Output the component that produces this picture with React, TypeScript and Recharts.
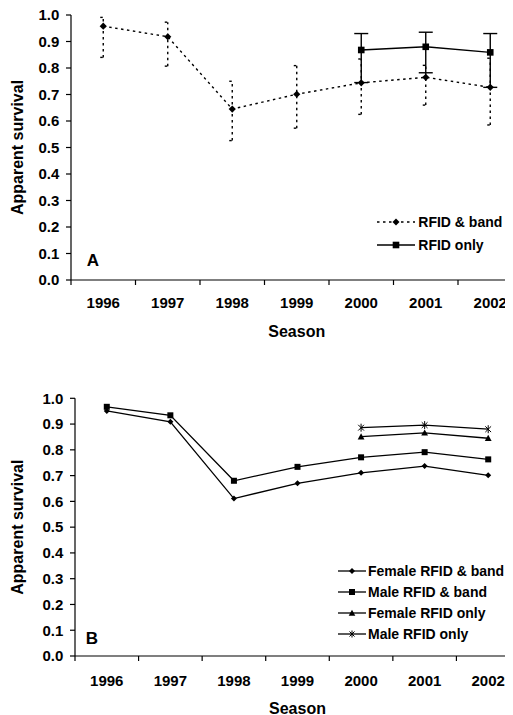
import React from 'react';
import { ComposedChart, Line, XAxis, YAxis, ErrorBar, Legend } from 'recharts';

const FONT = '"Liberation Sans", Arial, Helvetica, sans-serif';
const INK = '#000';

// shared axes
const seasons = ['1996', '1997', '1998', '1999', '2000', '2001', '2002'];
const yTicks = [0, 0.1, 0.2, 0.3, 0.4, 0.5, 0.6, 0.7, 0.8, 0.9, 1.0];
const boundaryTicks = [0, 1, 2, 3, 4, 5, 6, 7];
const centerTicks = [0.5, 1.5, 2.5, 3.5, 4.5, 5.5, 6.5];

// panel A (estimates with confidence limits)
const bandSurvival = [0.958, 0.918, 0.645, 0.701, 0.744, 0.765, 0.727];
const bandUpper = [0.991, 0.973, 0.75, 0.809, 0.834, 0.81, 0.837];
const bandLower = [0.84, 0.807, 0.526, 0.573, 0.625, 0.66, 0.585];
const rfidSurvival = [null, null, null, null, 0.868, 0.88, 0.859];
const rfidUpper = [null, null, null, null, 0.93, 0.935, 0.93];
const rfidLower = [null, null, null, null, 0.745, 0.782, 0.727];

// panel B (by sex)
const femaleBand = [0.951, 0.909, 0.611, 0.67, 0.711, 0.737, 0.701];
const maleBand = [0.967, 0.934, 0.68, 0.734, 0.771, 0.791, 0.763];
const femaleRfid = [null, null, null, null, 0.851, 0.866, 0.845];
const maleRfid = [null, null, null, null, 0.886, 0.896, 0.88];

const dataA = seasons.map((season, i) => ({
  x: i + 0.5,
  season,
  band: bandSurvival[i],
  bandErr: [bandSurvival[i] - bandLower[i], bandUpper[i] - bandSurvival[i]],
  rfid: rfidSurvival[i],
  rfidErr:
    rfidSurvival[i] == null
      ? undefined
      : [rfidSurvival[i]! - rfidLower[i]!, rfidUpper[i]! - rfidSurvival[i]!],
}));

const dataB = seasons.map((season, i) => ({
  x: i + 0.5,
  season,
  femaleBand: femaleBand[i],
  maleBand: maleBand[i],
  femaleRfid: femaleRfid[i],
  maleRfid: maleRfid[i],
}));

type MarkerKind = 'diamond' | 'square' | 'triangle' | 'star';

const Marker = ({ kind, cx, cy, size }: { kind: MarkerKind; cx?: number; cy?: number; size: number }) => {
  if (cx == null || cy == null || Number.isNaN(cx) || Number.isNaN(cy)) return null;
  const s = size;
  if (kind === 'diamond')
    return <path d={`M${cx},${cy - s}L${cx + s},${cy}L${cx},${cy + s}L${cx - s},${cy}Z`} fill={INK} />;
  if (kind === 'square') return <rect x={cx - s} y={cy - s} width={2 * s} height={2 * s} fill={INK} />;
  if (kind === 'triangle')
    return <path d={`M${cx},${cy - s}L${cx + s},${cy + s * 0.8}L${cx - s},${cy + s * 0.8}Z`} fill={INK} />;
  const d = s * 0.72;
  return (
    <g stroke={INK} strokeWidth={1}>
      <line x1={cx} y1={cy - s} x2={cx} y2={cy + s} />
      <line x1={cx - d} y1={cy - d} x2={cx + d} y2={cy + d} />
      <line x1={cx - d} y1={cy + d} x2={cx + d} y2={cy - d} />
    </g>
  );
};

const dotOf = (kind: MarkerKind, size: number) => (p: any) =>
  <Marker key={`${kind}-${p.index}`} kind={kind} cx={p.cx} cy={p.cy} size={size} />;

const tickStyle = { fill: INK, fontSize: 15, fontWeight: 700, fontFamily: FONT };
const titleStyle = { fill: INK, fontSize: 16, fontWeight: 700, fontFamily: FONT };

const legendA = [
  { name: 'RFID & band', kind: 'diamond' as MarkerKind, size: 3.5, dash: '2.5 3.5' },
  { name: 'RFID only', kind: 'square' as MarkerKind, size: 3.3, dash: undefined },
];
const legendB = [
  { name: 'Female RFID & band', kind: 'diamond' as MarkerKind, size: 3, dash: undefined },
  { name: 'Male RFID & band', kind: 'square' as MarkerKind, size: 3, dash: undefined },
  { name: 'Female RFID only', kind: 'triangle' as MarkerKind, size: 3.3, dash: undefined },
  { name: 'Male RFID only', kind: 'star' as MarkerKind, size: 3.5, dash: undefined },
];

const LegendRows = ({ items, lineW, rowH, gap }: { items: typeof legendA; lineW: number; rowH: number; gap: number }) => (
  <div style={{ fontFamily: FONT, fontSize: 14, fontWeight: 700, color: INK }}>
    {items.map((it) => (
      <div key={it.name} style={{ display: 'flex', alignItems: 'center', height: rowH, whiteSpace: 'nowrap' }}>
        <svg width={lineW} height={12} style={{ display: 'block' }}>
          <line x1={0} y1={6} x2={lineW} y2={6} stroke={INK} strokeWidth={1.3} strokeDasharray={it.dash} />
          <Marker kind={it.kind} cx={lineW / 2} cy={6} size={it.size} />
        </svg>
        <span style={{ marginLeft: gap }}>{it.name}</span>
      </div>
    ))}
  </div>
);

const PanelLetter = ({ text, x, y }: { text: string; x: number; y: number }) => (
  <div
    style={{
      position: 'absolute', left: x, top: y, transform: 'translate(-50%, -50%)',
      fontFamily: FONT, fontSize: 17, fontWeight: 700, lineHeight: 1, color: INK,
    }}
  >
    {text}
  </div>
);

const axesFor = (yWidth: number, yrGap: number, axisH: number, seasonOffset: number) => [
  <XAxis key="xt" xAxisId="tick" type="number" dataKey="x" domain={[0, 7]} ticks={boundaryTicks}
    interval={0} tickSize={5} height={5} tickFormatter={() => ''} stroke={INK} strokeWidth={1.2} />,
  <XAxis key="xy" xAxisId="yr" type="number" dataKey="x" domain={[0, 7]} ticks={centerTicks}
    interval={0} axisLine={false} tickLine={false} tickSize={6} tickMargin={yrGap} height={axisH}
    tickFormatter={(v: number) => seasons[Math.floor(v)]} tick={tickStyle}
    label={{ value: 'Season', position: 'insideBottom', offset: seasonOffset, style: titleStyle }} />,
  <YAxis key="y" type="number" domain={[0, 1]} ticks={yTicks} interval={0} width={yWidth}
    tickSize={5} tickMargin={6.7} stroke={INK} strokeWidth={1.2} tick={tickStyle}
    tickFormatter={(v: number) => v.toFixed(1)}
    label={{ value: 'Apparent survival', angle: -90, position: 'insideLeft', offset: 9.5,
      style: { ...titleStyle, textAnchor: 'middle' } }} />,
];

export default function App() {
  return (
    <div style={{ width: 505, overflow: 'hidden', marginTop: -6 }}>
      <div style={{ position: 'relative', width: 520, height: 351 }}>
        <ComposedChart width={520} height={351} data={dataA} margin={{ top: 13, right: 5.5, bottom: 0, left: 0 }}>
          {axesFor(63, 6.6, 68, 16)}
          <Line xAxisId="yr" dataKey="band" name="RFID & band" stroke={INK} strokeWidth={1.4}
            strokeDasharray="2.5 3.5" dot={dotOf('diamond', 3.6)} isAnimationActive={false}>
            <ErrorBar dataKey="bandErr" direction="y" width={3} stroke={INK} strokeWidth={1.4}
              strokeDasharray="2.5 3.5" isAnimationActive={false} />
          </Line>
          <Line xAxisId="yr" dataKey="rfid" name="RFID only" stroke={INK} strokeWidth={1.4}
            dot={dotOf('square', 3.3)} isAnimationActive={false}>
            <ErrorBar dataKey="rfidErr" direction="y" width={7} stroke={INK} strokeWidth={1.4}
              isAnimationActive={false} />
          </Line>
          <Legend layout="horizontal" align="center" verticalAlign="middle"
            wrapperStyle={{ left: 368.7, top: 208.5, width: 'auto', height: 'auto' }}
            content={() => <LegendRows items={legendA} lineW={38} rowH={23} gap={3.6} />} />
        </ComposedChart>
        <PanelLetter text="A" x={85} y={257.5} />
      </div>
      <div style={{ position: 'relative', width: 520, height: 362 }}>
        <ComposedChart width={520} height={362} data={dataB} margin={{ top: 45.3, right: 8, bottom: 0, left: 0 }}>
          {axesFor(67, 7.9, 54, 1.5)}
          <Line xAxisId="yr" dataKey="femaleBand" name="Female RFID & band" stroke={INK} strokeWidth={1.3}
            dot={dotOf('diamond', 3)} isAnimationActive={false} />
          <Line xAxisId="yr" dataKey="maleBand" name="Male RFID & band" stroke={INK} strokeWidth={1.3}
            dot={dotOf('square', 3)} isAnimationActive={false} />
          <Line xAxisId="yr" dataKey="femaleRfid" name="Female RFID only" stroke={INK} strokeWidth={1.3}
            dot={dotOf('triangle', 3.4)} isAnimationActive={false} />
          <Line xAxisId="yr" dataKey="maleRfid" name="Male RFID only" stroke={INK} strokeWidth={1.3}
            dot={dotOf('star', 4)} isAnimationActive={false} />
          <Legend layout="horizontal" align="center" verticalAlign="middle"
            wrapperStyle={{ left: 330, top: 207.1, width: 'auto', height: 'auto' }}
            content={() => <LegendRows items={legendB} lineW={28} rowH={21.2} gap={2} />} />
        </ComposedChart>
        <PanelLetter text="B" x={84} y={284.7} />
      </div>
    </div>
  );
}
